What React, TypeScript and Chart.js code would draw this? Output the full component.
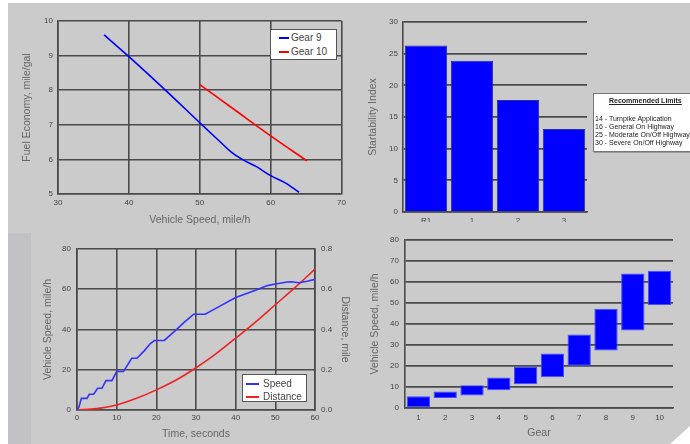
import React, { useEffect, useRef } from "react";
import { Chart, registerables } from "chart.js";
Chart.register(...registerables);

const FONT = "'Liberation Sans', Arial, sans-serif";
const GRID = "#4a4a4a";
const TICK = "#444444";
const TITLE = "#666666";
const PANEL = "#cbcbcb";

// Panel 1: fuel economy vs speed
const gear9Speed = [36.5, 40, 45, 50, 52.6, 54.4, 56, 58, 60, 62, 64];
const gear9Economy = [9.6, 8.97, 8.03, 7.06, 6.56, 6.22, 6.0, 5.79, 5.53, 5.33, 5.05];
const gear10Speed = [50, 55, 60, 65.1];
const gear10Economy = [8.16, 7.42, 6.68, 5.96];

// Panel 2: startability
const startLabels = ["R1", "1", "2", "3"];
const startValues = [26.3, 23.9, 17.7, 13.1];
const limitLines = [
  "14 - Turnpike Application",
  "16 - General On Highway",
  "25 - Moderate On/Off Highway",
  "30 - Severe On/Off Highway",
];

// Panel 3: speed & distance vs time
const speedTime = [0, 0.5, 1.1, 2.5, 3.1, 4.2, 5.2, 6.3, 7.3, 8.8, 10, 11.7, 13.8, 15.1, 17, 18.5, 19.5, 22, 25, 27, 28.5, 29.4, 32.3, 35, 40, 45, 48, 50, 53, 54, 56, 58, 60];
const speedValues = [0, 1.5, 5.8, 5.8, 7.8, 7.8, 10.8, 10.8, 14.6, 14.6, 19.1, 19.1, 25.7, 25.7, 29.5, 33, 34.5, 34.6, 39.8, 43.5, 46, 47.6, 47.6, 50.5, 55.9, 59.5, 61.8, 62.6, 63.6, 63.7, 63.2, 64, 64.9];
const distTime = [0, 5, 10, 15, 20, 25, 30, 35, 40, 45, 50, 55, 60];
const distValues = [0, 0.007, 0.025, 0.058, 0.1, 0.149, 0.21, 0.279, 0.357, 0.437, 0.523, 0.609, 0.7];

// Panel 4: speed range per gear
const gearLabels = ["1", "2", "3", "4", "5", "6", "7", "8", "9", "10"];
const gearMin = [0, 4.8, 6, 8.4, 11.3, 14.7, 20.1, 27.4, 36.9, 49.1];
const gearMax = [5.6, 7.8, 10.8, 14.5, 19.6, 25.9, 35, 47.3, 64.1, 65.3];

const tickFont = { size: 8, family: FONT };
const titleFont = { size: 10.5, family: FONT };

function ChartCanvas({ config, left, top, width, height }: any) {
  const ref = useRef<HTMLCanvasElement>(null);
  useEffect(() => {
    const c = new Chart(ref.current as HTMLCanvasElement, config);
    return () => c.destroy();
  }, []);
  return (
    <canvas
      ref={ref}
      width={width}
      height={height}
      style={{ position: "absolute", left, top, width, height }}
    />
  );
}

const baseOpts = (pad: any) => ({
  responsive: false,
  animation: false,
  layout: { padding: pad },
  plugins: { legend: { display: false }, tooltip: { enabled: false } },
});

const config1: any = {
  type: "line",
  data: {
    datasets: [
      {
        label: "Gear 9",
        data: gear9Speed.map((x, i) => ({ x, y: gear9Economy[i] })),
        borderColor: "#0000ff",
        borderWidth: 1.6,
        pointRadius: 0,
        cubicInterpolationMode: "monotone",
      },
      {
        label: "Gear 10",
        data: gear10Speed.map((x, i) => ({ x, y: gear10Economy[i] })),
        borderColor: "#ff0000",
        borderWidth: 1.6,
        pointRadius: 0,
        cubicInterpolationMode: "monotone",
      },
    ],
  },
  options: {
    ...baseOpts({ left: 0, right: 5, top: 18, bottom: 0 }),
    scales: {
      x: {
        type: "linear",
        min: 30,
        max: 70,
        ticks: { stepSize: 10, padding: 4, color: TICK, font: tickFont },
        grid: { color: GRID, lineWidth: 1.6, drawTicks: false },
        border: { color: GRID, width: 1.6 },
        title: { display: true, text: "Vehicle Speed, mile/h", color: TITLE, font: titleFont, padding: { top: 0, bottom: 1.7 } },
        afterFit: (s: any) => { s.height = 34; },
      },
      y: {
        min: 5,
        max: 10,
        ticks: { stepSize: 1, padding: 5, color: TICK, font: tickFont },
        grid: { color: GRID, lineWidth: 1.6, drawTicks: false },
        border: { color: GRID, width: 1.6 },
        title: { display: true, text: "Fuel Economy, mile/gal", color: TITLE, font: titleFont, padding: { top: 12.7, bottom: 0 } },
        afterFit: (s: any) => { s.width = 50; },
      },
    },
  },
};

const config2: any = {
  type: "bar",
  data: {
    labels: startLabels,
    datasets: [
      {
        data: startValues,
        backgroundColor: "#0000ff",
        borderColor: "#2a2aa8",
        borderWidth: 1,
        barPercentage: 0.92,
        categoryPercentage: 1,
      },
    ],
  },
  options: {
    ...baseOpts({ left: 0, right: 103, top: 19, bottom: 0 }),
    scales: {
      x: {
        ticks: { padding: 4, color: TICK, font: tickFont },
        grid: { display: false, drawTicks: false },
        border: { color: GRID, width: 1.6 },
        afterFit: (s: any) => { s.height = 10; },
      },
      y: {
        min: 0,
        max: 30,
        ticks: { stepSize: 5, padding: 5, color: TICK, font: tickFont },
        grid: { color: GRID, lineWidth: 1.8, drawTicks: false },
        border: { color: GRID, width: 1.6 },
        title: { display: true, text: "Startability Index", color: TITLE, font: titleFont, padding: { top: 16.7, bottom: 0 } },
        afterFit: (s: any) => { s.width = 53; },
      },
    },
  },
};

const config3: any = {
  type: "line",
  data: {
    datasets: [
      {
        label: "Speed",
        data: speedTime.map((x, i) => ({ x, y: speedValues[i] })),
        borderColor: "#3333ff",
        borderWidth: 1.6,
        pointRadius: 0,
        tension: 0,
        yAxisID: "y",
      },
      {
        label: "Distance",
        data: distTime.map((x, i) => ({ x, y: distValues[i] })),
        borderColor: "#ee2222",
        borderWidth: 1.6,
        pointRadius: 0,
        cubicInterpolationMode: "monotone",
        yAxisID: "y1",
      },
    ],
  },
  options: {
    ...baseOpts({ left: 0, right: 0, top: 21, bottom: 0 }),
    scales: {
      x: {
        type: "linear",
        min: 0,
        max: 60,
        ticks: { stepSize: 10, padding: 3, color: TICK, font: tickFont },
        grid: { color: GRID, lineWidth: 1.6, drawTicks: false },
        border: { color: GRID, width: 1.6 },
        title: { display: true, text: "Time, seconds", color: TITLE, font: titleFont, padding: { top: 0, bottom: 3.7 } },
        afterFit: (s: any) => { s.height = 34; },
      },
      y: {
        position: "left",
        min: 0,
        max: 80,
        ticks: { stepSize: 20, padding: 6, color: TICK, font: tickFont },
        grid: { color: GRID, lineWidth: 1.6, drawTicks: false },
        border: { color: GRID, width: 1.6 },
        title: { display: true, text: "Vehicle Speed, mile/h", color: TITLE, font: titleFont, padding: { top: 33.7, bottom: 0 } },
        afterFit: (s: any) => { s.width = 69; },
      },
      y1: {
        position: "right",
        min: 0,
        max: 0.8,
        ticks: { stepSize: 0.2, padding: 6, color: TICK, font: tickFont, callback: (v: any) => Number(v).toFixed(1) },
        grid: { display: false, drawTicks: false },
        border: { color: GRID, width: 1.6 },
        title: { display: true, text: "Distance, mile", color: TITLE, font: titleFont, padding: { top: 1.7, bottom: 0 } },
        afterFit: (s: any) => { s.width = 38; },
      },
    },
  },
};

const config4: any = {
  type: "bar",
  data: {
    labels: gearLabels,
    datasets: [
      {
        data: gearLabels.map((_, i) => [gearMin[i], gearMax[i]]),
        backgroundColor: "#0000ff",
        borderColor: "#4a4aff",
        borderWidth: 1,
        borderSkipped: false,
        barPercentage: 0.87,
        categoryPercentage: 1,
      },
    ],
  },
  options: {
    ...baseOpts({ left: 0, right: 17, top: 12, bottom: 0 }),
    scales: {
      x: {
        ticks: { padding: 5, color: TICK, font: tickFont },
        grid: { display: false, drawTicks: false },
        border: { color: GRID, width: 1.6 },
        title: { display: true, text: "Gear", color: TITLE, font: titleFont, padding: { top: 0, bottom: 4.7 } },
        afterFit: (s: any) => { s.height = 36; },
      },
      y: {
        min: 0,
        max: 80,
        ticks: { stepSize: 10, padding: 6, color: TICK, font: tickFont },
        grid: { color: GRID, lineWidth: 1.8, drawTicks: false },
        border: { color: GRID, width: 1.6 },
        title: { display: true, text: "Vehicle Speed, mile/h", color: TITLE, font: titleFont, padding: { top: 15.7, bottom: 0 } },
        afterFit: (s: any) => { s.width = 52; },
      },
    },
  },
};

function LegendBox({ left, top, width, height, items, lineX, lineW, textX, rowYs }: any) {
  return (
    <div
      style={{
        position: "absolute",
        left,
        top,
        width,
        height,
        background: "#ffffff",
        border: "1px solid #555",
        boxSizing: "border-box",
        fontFamily: FONT,
      }}
    >
      {items.map((it: any, i: number) => (
        <React.Fragment key={it.label}>
          <div
            style={{
              position: "absolute",
              left: lineX,
              top: rowYs[i] - 1,
              width: lineW,
              height: 2,
              background: it.color,
            }}
          />
          <div
            style={{
              position: "absolute",
              left: textX,
              top: rowYs[i] - 6,
              height: 12,
              lineHeight: "12px",
              fontSize: 10,
              color: "#444",
              whiteSpace: "nowrap",
            }}
          >
            {it.label}
          </div>
        </React.Fragment>
      ))}
    </div>
  );
}

export default function App() {
  return (
    <div
      style={{
        position: "fixed",
        left: 0,
        top: 0,
        width: 690,
        height: 444,
        overflow: "hidden",
        background: "#ffffff",
      }}
    >
      <div style={{ position: "absolute", left: 8, top: 3, width: 682, height: 441, background: PANEL }} />
      <div style={{ position: "absolute", left: 8, top: 233, width: 23, height: 211, background: "#c2c2c6" }} />

      <ChartCanvas config={config1} left={8} top={3} width={342} height={225} />
      <ChartCanvas config={config2} left={350} top={3} width={340} height={219} />
      <ChartCanvas config={config3} left={8} top={228} width={345} height={216} />
      <ChartCanvas config={config4} left={353} top={228} width={337} height={216} />

      <LegendBox
        left={270}
        top={29}
        width={67}
        height={31}
        items={[
          { label: "Gear 9", color: "#0000ff" },
          { label: "Gear 10", color: "#ff0000" },
        ]}
        lineX={8}
        lineW={10}
        textX={20}
        rowYs={[8, 21.5]}
      />
      <LegendBox
        left={242}
        top={374}
        width={65}
        height={28}
        items={[
          { label: "Speed", color: "#3333ff" },
          { label: "Distance", color: "#ee2222" },
        ]}
        lineX={3}
        lineW={13}
        textX={20}
        rowYs={[8.5, 21.5]}
      />

      <div
        style={{
          position: "absolute",
          left: 593,
          top: 93,
          width: 120,
          height: 59,
          background: "#ffffff",
          border: "1px solid #777",
          boxShadow: "1px 1px 0 #999",
          boxSizing: "border-box",
          fontFamily: FONT,
          color: "#222",
          fontSize: 7,
        }}
      >
        <div
          style={{
            position: "absolute",
            left: 15,
            top: 3,
            fontWeight: "bold",
            textDecoration: "underline",
            whiteSpace: "nowrap",
          }}
        >
          Recommended Limits
        </div>
        {limitLines.map((t, i) => (
          <div
            key={t}
            style={{
              position: "absolute",
              left: 1,
              top: 21 + i * 8,
              whiteSpace: "nowrap",
              lineHeight: "8px",
            }}
          >
            {t}
          </div>
        ))}
      </div>

      <div
        style={{
          position: "absolute",
          left: 650,
          top: 3,
          width: 40,
          height: 40,
          background: PANEL,
          zIndex: 10,
        }}
      />

      <div
        style={{
          position: "absolute",
          left: 670,
          top: 426,
          width: 0,
          height: 0,
          borderLeft: "20px solid transparent",
          borderBottom: "18px solid #ffffff",
          zIndex: 10,
        }}
      />
    </div>
  );
}
